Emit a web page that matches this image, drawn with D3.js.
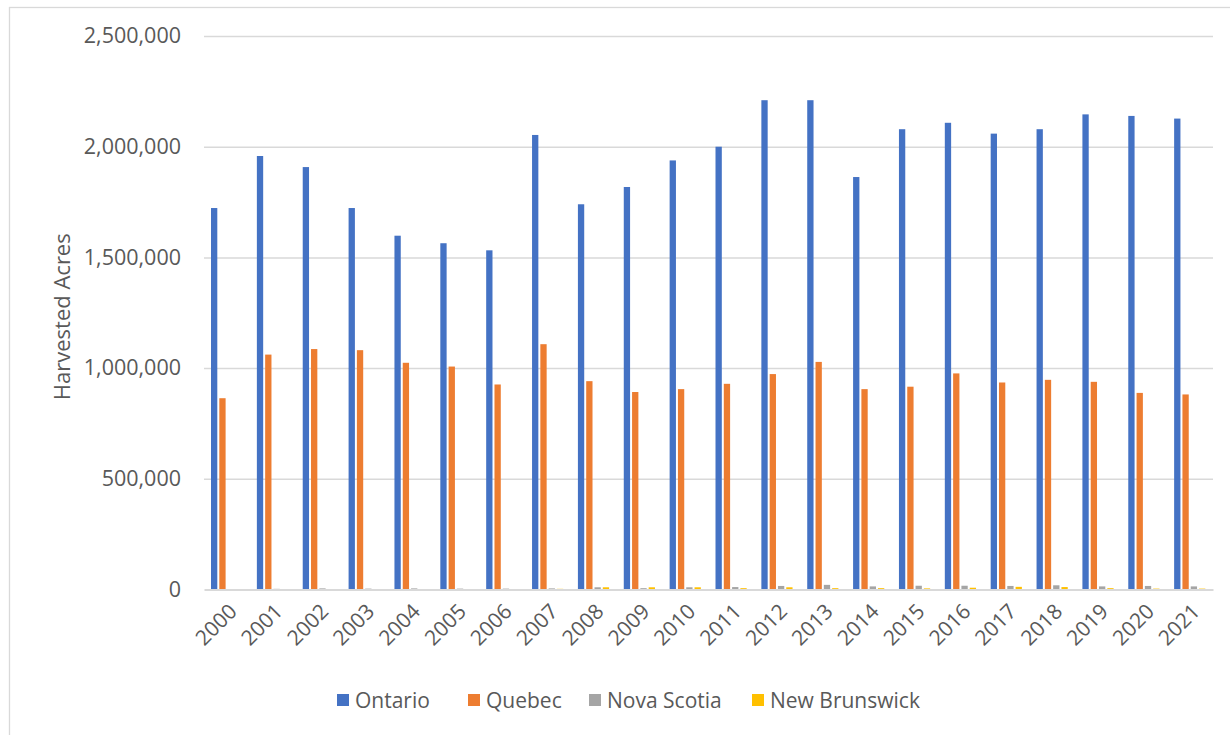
<!DOCTYPE html>
<html>
<head>
<meta charset="utf-8">
<script src="https://cdn.jsdelivr.net/npm/d3@7"></script>
<style>
  html, body { margin: 0; padding: 0; background: #fff; }
  svg { display: block; font-family: "Open Sans", sans-serif; }
</style>
</head>
<body>
<svg id="chart" width="1230" height="735"></svg>
<script>
const years = ["2000","2001","2002","2003","2004","2005","2006","2007","2008","2009","2010",
               "2011","2012","2013","2014","2015","2016","2017","2018","2019","2020","2021"];
const seriesNames = ["Ontario", "Quebec", "Nova Scotia", "New Brunswick"];
const seriesColors = ["#4472C4", "#ED7D31", "#A5A5A5", "#FFC000"];
const ontario = [1723000,1958000,1908000,1723000,1598000,1564000,1532000,2053000,1740000,1818000,1938000,
                 2000000,2210000,2210000,1863000,2079000,2108000,2059000,2079000,2146000,2139000,2127000];
const quebec = [864000,1061000,1086000,1081000,1024000,1007000,926000,1108000,941000,892000,905000,
                929000,973000,1028000,905000,916000,976000,935000,947000,938000,888000,881000];
const novaScotia = [0,3000,5000,4000,5000,4000,4000,5000,10000,6000,10000,
                    11000,16000,21000,14000,17000,17000,16000,19000,14000,16000,14000];
const newBrunswick = [0,0,0,0,0,0,0,3000,10000,10000,10000,
                      6000,10000,6000,6000,5000,8000,12000,11000,6000,4000,4000];
const yTicks = [0, 500000, 1000000, 1500000, 2000000, 2500000];
const yTitle = "Harvested Acres";

const values = [ontario, quebec, novaScotia, newBrunswick];
const rows = years.map((yr, i) => ({
  year: yr,
  vals: seriesNames.map((s, k) => ({ key: s, color: seriesColors[k], value: values[k][i] }))
}));

const svg = d3.select("#chart");
const textColor = "#595959";
const gridColor = "#d9d9d9";

// outer chart frame
svg.append("rect")
  .attr("x", 9.5).attr("y", 7.5)
  .attr("width", 1240).attr("height", 800)
  .attr("fill", "none").attr("stroke", gridColor).attr("stroke-width", 1.3);

const plotLeft = 204, plotRight = 1213, plotTop = 36, plotBottom = 589.5;

const y = d3.scaleLinear().domain([0, 2500000]).range([plotBottom, plotTop]);
const x0 = d3.scaleBand().domain(years).range([plotLeft, plotRight]).padding(0);
const x1 = d3.scaleBand().domain(seriesNames).range([7, 38.2]).paddingInner(0.24).paddingOuter(0);

// gridlines + y tick labels
const yAxis = d3.axisLeft(y).tickValues(yTicks).tickSize(0).tickPadding(0)
  .tickFormat(d3.format(","));
const gy = svg.append("g").attr("transform", `translate(${plotLeft},0)`).call(yAxis);
gy.select(".domain").remove();
gy.selectAll(".tick text")
  .attr("x", -23)
  .attr("fill", textColor)
  .style("font-size", "21.5px")
  .style("font-family", "'Open Sans', sans-serif");
gy.selectAll(".tick")
  .filter(d => d !== 0)
  .append("line")
  .attr("x1", 0).attr("x2", plotRight - plotLeft)
  .attr("stroke", gridColor).attr("stroke-width", 1.5);

// bars
const groups = svg.append("g").selectAll("g")
  .data(rows).join("g")
  .attr("transform", d => `translate(${x0(d.year)},0)`);
groups.selectAll("rect")
  .data(d => d.vals).join("rect")
  .attr("x", d => x1(d.key))
  .attr("width", x1.bandwidth())
  .attr("y", d => y(d.value))
  .attr("height", d => plotBottom - y(d.value))
  .attr("fill", d => d.color);

// x axis
const xAxis = d3.axisBottom(x0).tickSize(0).tickPadding(0);
const gx = svg.append("g").attr("transform", `translate(0,${plotBottom})`).call(xAxis);
gx.select(".domain").attr("stroke", gridColor).attr("stroke-width", 1.8);
gx.selectAll(".tick text")
  .attr("fill", textColor)
  .style("font-size", "21px")
  .style("font-family", "'Open Sans', sans-serif")
  .attr("text-anchor", "end")
  .attr("dy", "0.35em")
  .attr("y", 0)
  .attr("transform", "translate(6,18) rotate(-45)");

// y title
svg.append("text")
  .attr("transform", `translate(70,${(plotTop + plotBottom) / 2 + 4}) rotate(-90)`)
  .attr("text-anchor", "middle")
  .attr("fill", textColor)
  .style("font-size", "22px")
  .text(yTitle);

// legend
const legendX = [337, 468, 589, 752];
const legend = svg.append("g").selectAll("g")
  .data(seriesNames).join("g")
  .attr("transform", (d, i) => `translate(${legendX[i]},694)`);
legend.append("rect")
  .attr("width", 12).attr("height", 12)
  .attr("fill", (d, i) => seriesColors[i]);
legend.append("text")
  .attr("x", 18).attr("y", 6).attr("dy", "0.36em")
  .attr("fill", textColor)
  .style("font-size", "21px")
  .text(d => d);
</script>
</body>
</html>
